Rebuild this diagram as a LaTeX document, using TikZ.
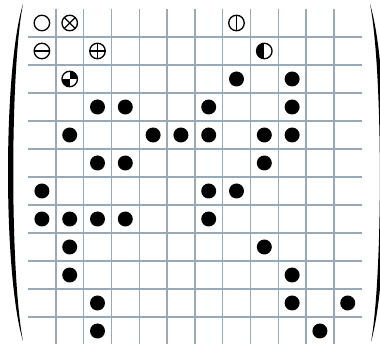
\documentclass[tikz,border=0pt]{standalone}
\definecolor{gridc}{RGB}{150,170,186}
\tikzset{
  gridline/.style={draw=gridc, line width=1.4pt},
  dot/.style={circle, fill=black, inner sep=0pt, minimum size=15pt},
  ring/.style={circle, draw=black, fill=white, line width=1.3pt, inner sep=0pt, minimum size=15.5pt},
  paren/.style={fill=black},
}
\begin{document}
\begin{tikzpicture}[x=1pt,y=-1pt]
\useasboundingbox (0,0) rectangle (380,344);
% grid
\foreach \k in {1,...,11}{
  \draw[gridline] ({28+27.8*\k},9) -- ({28+27.8*\k},344);
  \draw[gridline] (28,{9+28*\k}) -- (362,{9+28*\k});
}
% filled dots (col,row)
\foreach \c/\r in {8/3,10/3, 3/4,4/4,7/4,10/4, 2/5,5/5,6/5,7/5,9/5,10/5,
  3/6,4/6,9/6, 1/7,7/7,8/7, 1/8,2/8,3/8,4/8,7/8, 2/9,9/9, 2/10,10/10,
  3/11,10/11,12/11, 3/12,11/12}{
  \node[dot] (d-\c-\r) at ({28+27.8*(\c-0.5)},{9+28*(\r-0.5)}) {};
}
% special symbols
\node[ring] (s-1-1) at ({28+27.8*0.5},{9+28*0.5}) {};
\node[ring, path picture={\draw[black,line width=1.3pt] (path picture bounding box.north west) -- (path picture bounding box.south east) (path picture bounding box.north east) -- (path picture bounding box.south west);}] (s-2-1) at ({28+27.8*1.5},{9+28*0.5}) {};
\node[ring, path picture={\draw[black,line width=1.3pt] (path picture bounding box.north) -- (path picture bounding box.south);}] (s-8-1) at ({28+27.8*7.5},{9+28*0.5}) {};
\node[ring, path picture={\draw[black,line width=1.3pt] (path picture bounding box.west) -- (path picture bounding box.east);}] (s-1-2) at ({28+27.8*0.5},{9+28*1.5}) {};
\node[ring, path picture={\draw[black,line width=1.3pt] (path picture bounding box.west) -- (path picture bounding box.east) (path picture bounding box.north) -- (path picture bounding box.south);}] (s-3-2) at ({28+27.8*2.5},{9+28*1.5}) {};
\node[ring, path picture={\fill[black] (path picture bounding box.north) rectangle (path picture bounding box.south west);}] (s-9-2) at ({28+27.8*8.5},{9+28*1.5}) {};
\node[ring, path picture={\fill[black] (path picture bounding box.center) rectangle (path picture bounding box.north east); \fill[black] (path picture bounding box.center) rectangle (path picture bounding box.south west);}] (s-2-3) at ({28+27.8*1.5},{9+28*2.5}) {};
% parentheses
\fill[paren] (23,4) .. controls (3,70) and (3,275) .. (23,341) .. controls (10,275) and (10,70) .. (23,4) -- cycle;
\fill[paren] (370,4) .. controls (390,70) and (390,275) .. (371,342) .. controls (383,275) and (383,70) .. (370,4) -- cycle;
\end{tikzpicture}
\end{document}
